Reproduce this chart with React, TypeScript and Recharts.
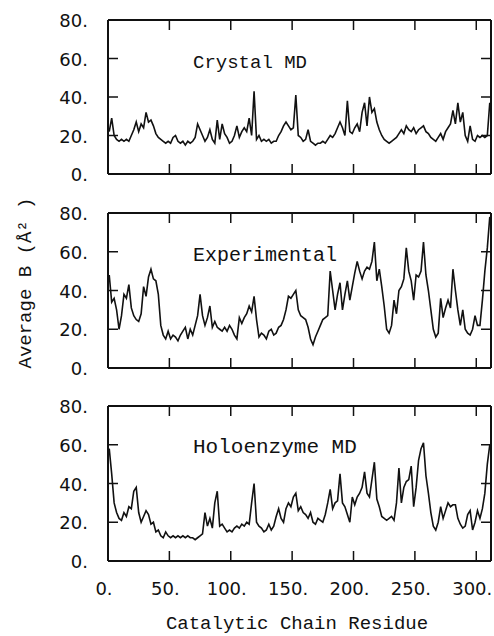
import React from "react";
import { LineChart, Line, XAxis, YAxis } from "recharts";

// residue numbers sampled every 2 residues along the catalytic chain
const residues = Array.from({ length: 156 }, (_, i) => 1 + i * 2);

const crystalMD = [
  22, 29, 20, 18, 17, 18, 17, 18, 17, 20, 23, 27, 22, 26, 24, 32, 27, 28, 25, 21,
  19, 18, 17, 16, 17, 16, 19, 20, 17, 16, 17, 15, 17, 16, 17, 19, 26, 23, 20, 17,
  19, 23, 18, 16, 28, 18, 26, 21, 19, 16, 17, 20, 25, 19, 22, 24, 22, 29, 20, 43,
  18, 20, 17, 18, 17, 18, 16, 17, 17, 20, 22, 25, 27, 25, 23, 24, 41, 20, 19, 17,
  18, 23, 17, 16, 15, 16, 16, 17, 16, 18, 20, 19, 21, 24, 27, 24, 20, 38, 22, 21,
  24, 26, 22, 32, 37, 25, 40, 32, 34, 27, 23, 20, 18, 17, 16, 17, 18, 19, 21, 23,
  21, 25, 23, 22, 24, 21, 23, 24, 25, 22, 21, 19, 18, 17, 19, 21, 18, 22, 24, 26,
  33, 26, 37, 27, 32, 20, 17, 25, 18, 17, 20, 19, 20, 19, 20, 37,
];

const experimental = [
  48, 34, 36, 30, 20, 27, 38, 36, 43, 31, 27, 25, 24, 28, 42, 37, 47, 51, 46, 45,
  38, 22, 17, 15, 19, 15, 17, 16, 14, 17, 19, 21, 15, 20, 17, 22, 27, 38, 27, 22,
  26, 32, 21, 24, 21, 20, 19, 21, 19, 22, 20, 17, 15, 26, 23, 26, 28, 32, 29, 37,
  25, 16, 18, 17, 15, 19, 20, 17, 18, 21, 22, 25, 30, 37, 36, 38, 40, 30, 27, 26,
  25, 21, 15, 12, 16, 19, 22, 25, 26, 27, 50, 40, 30, 38, 44, 30, 38, 45, 35, 42,
  49, 55, 50, 46, 50, 52, 51, 55, 65, 45, 51, 42, 32, 20, 18, 22, 35, 28, 40, 42,
  46, 62, 50, 45, 35, 48, 47, 50, 65, 48, 40, 30, 20, 16, 18, 36, 26, 31, 35, 31,
  51, 40, 30, 22, 30, 20, 18, 17, 20, 27, 22, 22, 35, 50, 62, 78,
];

const holoenzymeMD = [
  58, 45, 30, 25, 22, 21, 25, 23, 28, 27, 36, 38, 25, 20, 23, 26, 24, 19, 20, 15,
  16, 13, 12, 15, 13, 12, 13, 12, 13, 12, 13, 12, 13, 12, 12, 11, 12, 13, 14, 25,
  18, 22, 17, 30, 36, 18, 19, 17, 15, 16, 15, 17, 18, 17, 19, 18, 20, 19, 30, 40,
  20, 18, 17, 15, 16, 19, 16, 18, 23, 27, 22, 20, 27, 30, 28, 33, 35, 26, 28, 25,
  24, 22, 25, 20, 19, 22, 21, 20, 24, 30, 37, 27, 30, 31, 45, 30, 28, 24, 20, 33,
  29, 33, 35, 38, 46, 35, 33, 42, 51, 32, 28, 23, 22, 21, 22, 23, 21, 30, 48, 30,
  38, 41, 42, 49, 28, 38, 52, 58, 61, 44, 35, 25, 18, 16, 20, 28, 22, 26, 30, 28,
  29, 29, 22, 19, 17, 18, 24, 26, 16, 20, 26, 22, 27, 35, 50, 60,
];

const xTicks = [0, 50, 100, 150, 200, 250, 300];
const yTicks = [0, 20, 40, 60, 80];

const rows = residues.map((r, i) => ({
  residue: r,
  crystal: crystalMD[i],
  experimental: experimental[i],
  holoenzyme: holoenzymeMD[i],
}));

const ink = "#111";
const sansFont = "DejaVu Sans";
const monoFont = "Liberation Mono";
const xDomain: [number, number] = [0, 312];
const yDomain: [number, number] = [0, 80];
const TICK = 10;

type Side = "bottom" | "top" | "left" | "right";

// tick sits exactly on the frame (tickSize 0); draw the mark inward and the label outside
const makeTick = (side: Side, withLabel: boolean) => (props: any) => {
  const { x, y, payload } = props;
  const label = `${payload.value}.`;
  let mark;
  if (side === "bottom") mark = <line x1={x} y1={y} x2={x} y2={y - TICK} />;
  else if (side === "top") mark = <line x1={x} y1={y} x2={x} y2={y + TICK} />;
  else if (side === "left") mark = <line x1={x} y1={y} x2={x + TICK} y2={y} />;
  else mark = <line x1={x} y1={y} x2={x - TICK} y2={y} />;
  return (
    <g>
      <g stroke={ink} strokeWidth={1.5}>{mark}</g>
      {withLabel && side === "bottom" && (
        <text x={x - 4} y={y + 34} textAnchor="middle" fontFamily={sansFont} fontSize={18} fill={ink}>
          {label}
        </text>
      )}
      {withLabel && side === "left" && (
        <text x={x - 20} y={y + 7} textAnchor="end" fontFamily={sansFont} fontSize={18} fill={ink}>
          {label}
        </text>
      )}
    </g>
  );
};

interface PanelProps {
  dataKey: string;
  top: number;
  bottom: number;
  showX: boolean;
}

// each panel is a full-page chart whose margins put the plot box where the scan has it
const Panel: React.FC<PanelProps> = ({ dataKey, top, bottom, showX }) => {
  const frame = { stroke: ink, strokeWidth: 2 };
  const xH = showX ? 30 : 1;
  return (
    <div style={{ position: "absolute", left: 0, top: 0 }}>
      <LineChart
        width={494}
        height={636}
        data={rows}
        margin={{ top: top - 1, right: 2, left: 48, bottom: 636 - bottom - xH }}
      >
        <XAxis
          xAxisId="b"
          dataKey="residue"
          type="number"
          domain={xDomain}
          allowDataOverflow
          ticks={xTicks}
          interval={0}
          height={xH}
          tickSize={0}
          tickMargin={0}
          axisLine={frame}
          tickLine={false}
          tick={makeTick("bottom", showX)}
        />
        <XAxis
          xAxisId="t"
          orientation="top"
          dataKey="residue"
          type="number"
          domain={xDomain}
          allowDataOverflow
          ticks={xTicks}
          interval={0}
          height={1}
          tickSize={0}
          tickMargin={0}
          axisLine={frame}
          tickLine={false}
          tick={makeTick("top", false)}
        />
        <YAxis
          yAxisId="l"
          type="number"
          domain={yDomain}
          allowDataOverflow
          ticks={yTicks}
          interval={0}
          width={60}
          tickSize={0}
          tickMargin={0}
          axisLine={frame}
          tickLine={false}
          tick={makeTick("left", true)}
        />
        <YAxis
          yAxisId="r"
          orientation="right"
          type="number"
          domain={yDomain}
          allowDataOverflow
          ticks={yTicks}
          interval={0}
          width={1}
          tickSize={0}
          tickMargin={0}
          axisLine={frame}
          tickLine={false}
          tick={makeTick("right", false)}
        />
        <Line
          xAxisId="b"
          yAxisId="l"
          dataKey={dataKey}
          type="linear"
          stroke={ink}
          strokeWidth={1.6}
          dot={false}
          isAnimationActive={false}
        />
      </LineChart>
    </div>
  );
};

const App: React.FC = () => {
  return (
    <div style={{ position: "absolute", left: 0, top: 0, width: 494, height: 636, background: "#fff" }}>
      <Panel dataKey="crystal" top={20} bottom={174} showX={false} />
      <Panel dataKey="experimental" top={213} bottom={368} showX={false} />
      <Panel dataKey="holoenzyme" top={406} bottom={561} showX={true} />
      <svg width={494} height={636} style={{ position: "absolute", left: 0, top: 0 }}>
        <g fontFamily={monoFont} fill={ink}>
          <text x={193} y={68} fontSize={19}>Crystal MD</text>
          <text x={193} y={261} fontSize={20}>Experimental</text>
          <text x={193} y={453} fontSize={21}>Holoenzyme MD</text>
          <text x={297} y={629} fontSize={19} textAnchor="middle">Catalytic Chain Residue</text>
          <text x={31} y={283} fontSize={19} textAnchor="middle" transform="rotate(-90 31 283)">
            Average B (Å² )
          </text>
        </g>
      </svg>
    </div>
  );
};

export default App;
